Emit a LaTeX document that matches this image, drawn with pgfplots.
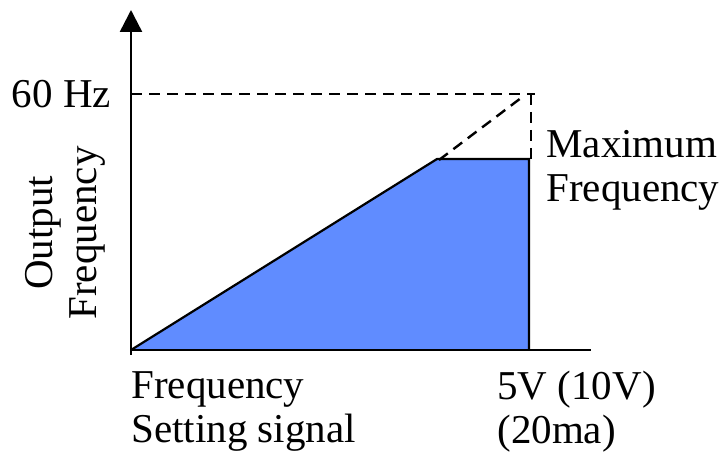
\documentclass[border=0pt]{standalone}
\usepackage{pgfplots}
\pgfplotsset{compat=1.18}
\usepackage{fontspec}
\setmainfont{Liberation Serif}
\usetikzlibrary{arrows.meta}
\definecolor{fillblue}{RGB}{96,140,255}
\begin{document}
\begin{tikzpicture}
\begin{axis}[
  scale only axis, width=362pt, height=224pt,
  xmin=-131, xmax=593, ymin=-98, ymax=350,
  hide axis, clip=false,
]
% bounding frame (invisible)
\addplot[draw=none, forget plot] coordinates {(-131,-98) (593,350)};
% blue area
\addplot[fill=fillblue, draw=black, line width=1.1pt] coordinates {(0,0) (306,191) (398,191) (398,0)};
% dashed guide lines
\addplot[black, line width=1.2pt, dash pattern=on 5.5pt off 3.5pt] coordinates {(0,256) (404,256)};
\addplot[black, line width=1.2pt, dash pattern=on 5.5pt off 3.5pt] coordinates {(400,256) (400,191)};
\addplot[black, line width=1.2pt, dash pattern=on 5.5pt off 3.5pt] coordinates {(308,190) (394,255)};
% axes
\addplot[black, line width=1.3pt] coordinates {(0,0) (460,0)};
\addplot[black, line width=1.2pt, -{Triangle[width=11pt,length=11pt]}] coordinates {(0,-5) (0,340)};
% labels
\node[anchor=base east, font=\fontsize{20.5}{22}\selectfont] at (axis cs:-13,242) {60 Hz};
\node[anchor=north west, align=left, font=\fontsize{20.5}{22}\selectfont, inner sep=0pt] at (axis cs:415,220) {Maximum\\Frequency};
\node[rotate=90, align=center, font=\fontsize{20.5}{22}\selectfont, inner sep=0pt] at (axis cs:-66,117) {Output\\Frequency};
\node[anchor=north west, align=left, font=\fontsize{20.5}{22}\selectfont, inner sep=0pt] at (axis cs:0,-21) {Frequency\\Setting signal};
\node[anchor=north west, align=left, font=\fontsize{20.5}{22}\selectfont, inner sep=0pt] at (axis cs:366,-21) {5V (10V)\\(20ma)};
\end{axis}
\end{tikzpicture}
\end{document}
